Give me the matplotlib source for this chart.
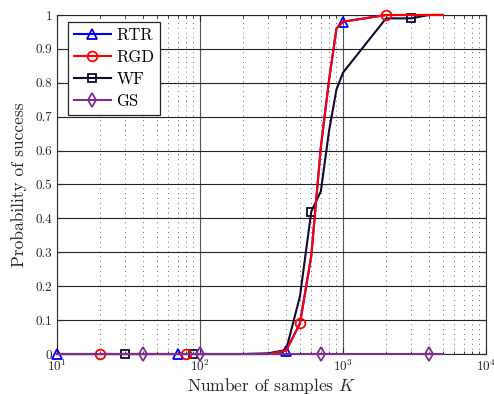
import numpy as np
import matplotlib.pyplot as plt
from matplotlib.ticker import LogLocator, NullFormatter

plt.rcParams['font.family'] = 'serif'
plt.rcParams['font.serif'] = ['cmr10']
plt.rcParams['mathtext.fontset'] = 'cm'
plt.rcParams['axes.formatter.use_mathtext'] = True

# number of samples
K = [10, 20, 30, 40, 50, 60, 70, 80, 90, 100,
     200, 300, 400, 500, 600, 700, 800, 900, 1000,
     2000, 3000, 4000, 5000]

rtr = [0, 0, 0, 0, 0, 0, 0, 0, 0, 0,
       0, 0, 0.01, 0.09, 0.29, 0.61, 0.81, 0.96, 0.98,
       1.0, 1.0, 1.0, 1.0]
rgd = [0, 0, 0, 0, 0, 0, 0, 0, 0, 0,
       0, 0, 0.01, 0.09, 0.29, 0.61, 0.81, 0.96, 0.98,
       1.0, 1.0, 1.0, 1.0]
wf = [0, 0, 0, 0, 0, 0, 0, 0, 0, 0,
      0, 0.002, 0.012, 0.17, 0.42, 0.48, 0.66, 0.78, 0.83,
      0.99, 0.99, 1.0, 1.0]
gs = [0] * len(K)

fig = plt.figure(figsize=(4.94, 3.94), dpi=100)
ax = fig.add_axes([0.1154, 0.1015, 0.8684, 0.8605])

ax.set_xscale('log')
ax.set_xlim(10, 1e4)
ax.set_ylim(0, 1)

# grid first so the curves sit on top
ax.grid(True, which='major', axis='y', color='#222222', linestyle='-', linewidth=0.8)
ax.grid(True, which='major', axis='x', color='#555555', linestyle='-', linewidth=0.8)
ax.grid(True, which='minor', axis='x', color='#666666', linestyle=(0, (1, 4)), linewidth=0.7)
ax.set_axisbelow(True)

ax.plot(K, rtr, '-^', color='blue', mfc='none', mew=1.3, ms=7, lw=1.5,
        markevery=(0, 6), label='RTR', clip_on=False, zorder=3)
ax.plot(K, rgd, '-o', color='red', mfc='none', mew=1.3, ms=7, lw=1.5,
        markevery=(1, 6), label='RGD', clip_on=False, zorder=4)
ax.plot(K, wf, '-s', color='#0c0c30', mfc='none', mew=1.3, ms=5.5, lw=1.5,
        markevery=(2, 6), label='WF', clip_on=False, zorder=3)
ax.plot(K, gs, '-d', color='#7e2f8e', mfc='none', mew=1.3, ms=7, lw=1.5,
        markevery=(3, 6), label='GS', clip_on=False, zorder=5)

ax.set_yticks(np.arange(0, 1.01, 0.1))
ax.set_yticklabels(['0', '0.1', '0.2', '0.3', '0.4', '0.5', '0.6', '0.7', '0.8', '0.9', '1'])
ax.xaxis.set_major_locator(LogLocator(base=10, numticks=10))
ax.xaxis.set_minor_locator(LogLocator(base=10, subs=np.arange(2, 10), numticks=20))
ax.xaxis.set_minor_formatter(NullFormatter())
ax.tick_params(which='both', direction='in', top=True, right=True, colors='#262626',
               labelsize=9.5)
ax.tick_params(which='major', length=4)
ax.tick_params(which='minor', length=2)
for s in ax.spines.values():
    s.set_color('#262626')
    s.set_linewidth(0.8)

ax.set_xlabel('Number of samples $K$', fontsize=12.5, color='#262626', labelpad=1)
ax.set_ylabel('Probability of success', fontsize=12.5, color='#262626', labelpad=6)

leg = ax.legend(loc='upper left', fontsize=12, handlelength=2.2, handletextpad=0.35,
                fancybox=False, framealpha=1, edgecolor='#262626', borderpad=0.35,
                labelspacing=0.4, borderaxespad=0, bbox_to_anchor=(0.026, 0.98))
leg.get_frame().set_linewidth(0.9)

plt.savefig('out.png', dpi=100)
plt.close()
